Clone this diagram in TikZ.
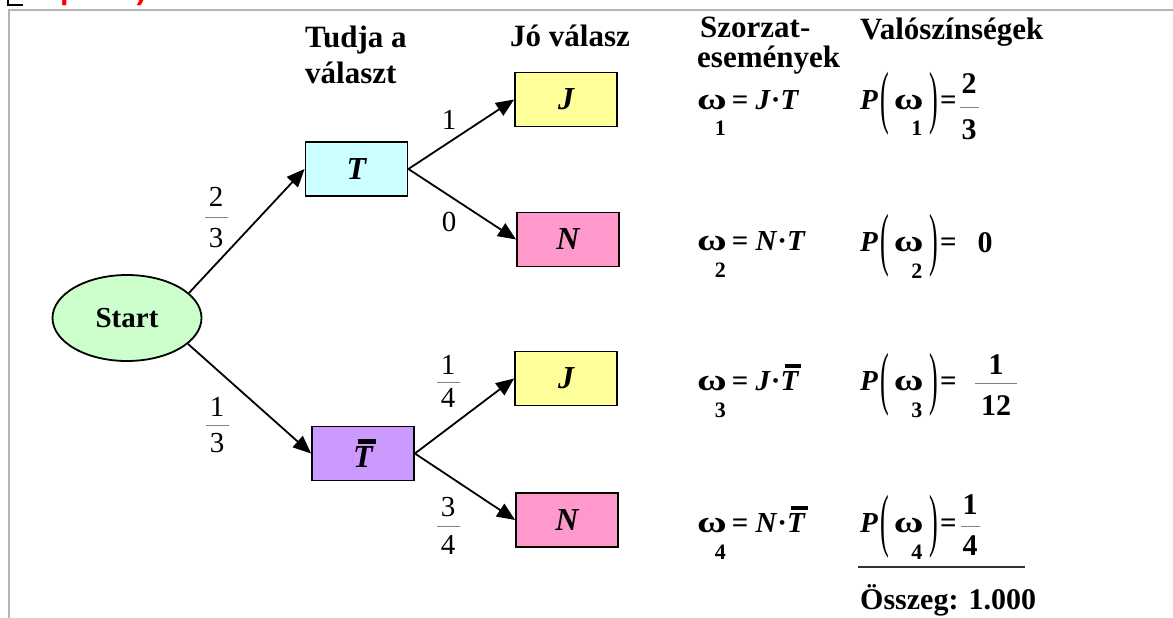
\documentclass[tikz,border=0pt]{standalone}
\usepackage{fontspec}
\setmainfont{Liberation Serif}
\newfontfamily\courierfont{Liberation Mono}
\usepackage{graphicx}
\usetikzlibrary{arrows.meta,shapes.geometric}
\definecolor{cyanbox}{HTML}{CCFFFF}
\definecolor{purplebox}{HTML}{CC99FF}
\definecolor{yellowbox}{HTML}{FFFF99}
\definecolor{pinkbox}{HTML}{FF99CC}
\definecolor{startgreen}{HTML}{CCFFCC}
\definecolor{bordergray}{HTML}{B4B4B4}
\definecolor{fracgray}{HTML}{808080}
\newcommand\Tbar{\leavevmode\rlap{\hspace{0.14em}\rule[0.76em]{0.58em}{0.14em}}\textit{T}}
\newcommand\om{\scalebox{1.4}[1.05]{ω}}
\newcommand\sub[1]{\kern-12pt\raisebox{-27pt}{\fontsize{22}{22}\selectfont #1}\kern3pt}
\newcommand\lpar{\raisebox{-11pt}{\scalebox{0.9}[2.4]{\mdseries(}}}
\newcommand\rpar{\raisebox{-11pt}{\scalebox{0.9}[2.4]{\mdseries)}}}
\begin{document}
\begin{tikzpicture}[x=1pt,y=-1pt,
  box/.style={draw, line width=1.8pt, minimum width=102pt, minimum height=54pt, inner sep=0pt, font=\fontsize{32}{32}\selectfont\bfseries\itshape},
  arr/.style={line width=1.8pt, -{Triangle[length=18pt,width=15pt]}},
  hdr/.style={font=\fontsize{31}{34}\selectfont\bfseries, anchor=west, inner sep=0pt},
  lab/.style={font=\fontsize{29}{29}\selectfont, inner sep=0pt},
  blab/.style={font=\fontsize{30}{30}\selectfont\bfseries, inner sep=0pt},
  fl/.style={draw=fracgray, line width=1pt},
  eq/.style={font=\fontsize{29}{29}\selectfont\bfseries, anchor=base west, inner sep=0pt}
]
\useasboundingbox (0,0) rectangle (1173,618);
\fill[white] (0,0) rectangle (1173,618);
\draw[bordergray, line width=2.5pt] (9,618) -- (9,10) -- (1173,10);
\draw[line width=2pt] (8,0) -- (8,5.5) -- (23,5.5);
\begin{scope}
\clip (0,0) rectangle (200,8);
\node[anchor=base west, inner sep=0pt, text=red, font=\courierfont\bfseries\fontsize{30}{30}\selectfont] (pref) at (60,0) {p.15)};
\end{scope}

% headers
\node[hdr] (h1a) at (305,40) {Tudja a};
\node[hdr] (h1b) at (305,73) {választ};
\node[hdr] (h2) at (510,36) {Jó válasz};
\node[hdr] (h3a) at (700,27) {Szorzat-};
\node[hdr] (h3b) at (697,60) {események};
\node[hdr] (h4) at (860,32) {Valószínségek};

% tree
\node[ellipse, draw, fill=startgreen, line width=1.8pt, minimum width=149pt, minimum height=86pt, inner sep=0pt, font=\fontsize{29}{29}\selectfont\bfseries] (start) at (127,318) {Start};
\node[box, fill=cyanbox] (T) at (356.5,169) {T};
\node[box, fill=purplebox] (Tb) at (363,453.5) {\Tbar};
\node[box, fill=yellowbox] (J1) at (566,99.5) {J};
\node[box, fill=pinkbox] (N1) at (568,239.5) {N};
\node[box, fill=yellowbox] (J2) at (566,378.5) {J};
\node[box, fill=pinkbox] (N2) at (567,520) {N};

\draw[arr] (start.22) -- (T.west);
\draw[arr] (start.-23) -- (Tb.west);
\draw[arr] (T.east) -- (J1.west);
\draw[arr] (T.east) -- (N1.west);
\draw[arr] (Tb.east) -- (J2.west);
\draw[arr] (Tb.east) -- (N2.west);

% branch labels
\node[lab] (a23n) at (216,197) {2};
\node[lab] (a23d) at (216,238) {3};
\draw[fl] (205,217) -- (228,217);
\node[lab] (a13n) at (217,407) {1};
\node[lab] (a13d) at (217,443) {3};
\draw[fl] (206,425) -- (229,425);
\node[lab] (l1) at (449,120) {1};
\node[lab] (l0) at (449,222) {0};
\node[lab] (a14n) at (448,365) {1};
\node[lab] (a14d) at (448,398) {4};
\draw[fl] (437,382) -- (460,382);
\node[lab] (a34n) at (448,507) {3};
\node[lab] (a34d) at (448,545) {4};
\draw[fl] (437,526) -- (460,526);

% product events
\node[eq] (w1) at (697,109) {\om\sub{1}\kern3pt= \textit{J}·\textit{T}};
\node[eq] (w2) at (697,250) {\om\sub{2}\kern3pt= \textit{N}·\textit{T}};
\node[eq] (w3) at (697,390) {\om\sub{3}\kern3pt= \textit{J}·\Tbar};
\node[eq] (w4) at (697,532) {\om\sub{4}\kern3pt= \textit{N}·\Tbar};

% probabilities
\node[eq] (p1) at (860,109) {\textit{P}\kern2pt\lpar\kern5pt\om\sub{1}\kern4pt\rpar\kern2pt=};
\node[blab] (p1n) at (969,84) {2};
\node[blab] (p1d) at (969,130) {3};
\draw[fl] (960,107) -- (979,107);
\node[eq] (p2) at (860,251) {\textit{P}\kern2pt\lpar\kern5pt\om\sub{2}\kern4pt\rpar\kern2pt=};
\node[blab] (p2v) at (985,243) {0};
\node[eq] (p3) at (860,390) {\textit{P}\kern2pt\lpar\kern5pt\om\sub{3}\kern4pt\rpar\kern2pt=};
\node[blab] (p3n) at (996,365) {1};
\node[blab] (p3d) at (996,406) {12};
\draw[fl] (975,383) -- (1017,383);
\node[eq] (p4) at (860,532) {\textit{P}\kern2pt\lpar\kern5pt\om\sub{4}\kern4pt\rpar\kern2pt=};
\node[blab] (p4n) at (970,505) {1};
\node[blab] (p4d) at (970,546) {4};
\draw[fl] (961,526) -- (980,526);

\draw[line width=1.2pt, black!80] (858,567) -- (1025,567);
\node[hdr, font=\fontsize{30}{34}\selectfont\bfseries] (sum) at (860,600) {Összeg: 1.000};
\end{tikzpicture}
\end{document}
